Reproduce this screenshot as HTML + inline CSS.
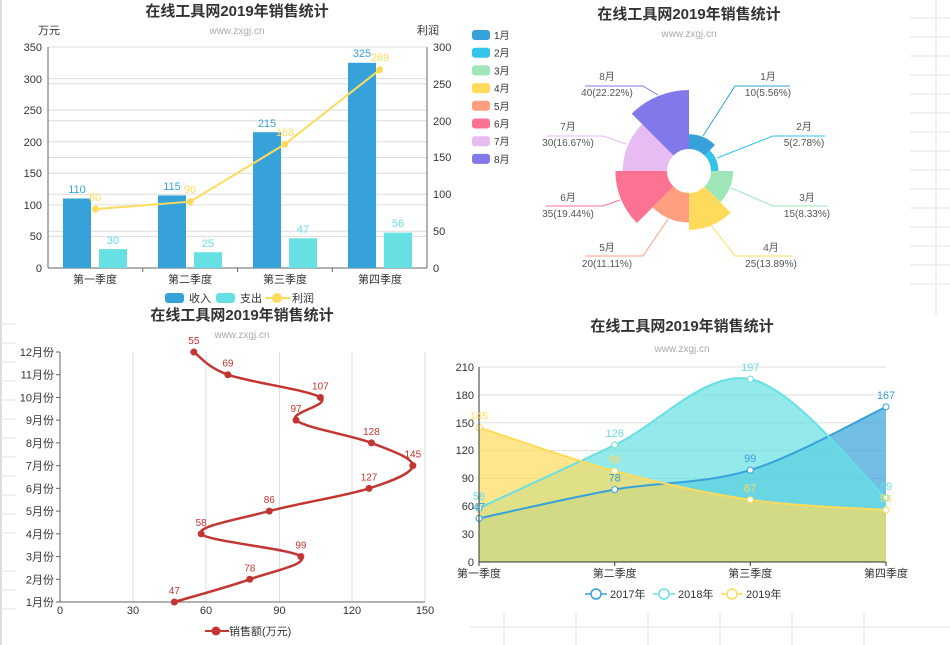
<!DOCTYPE html>
<html><head><meta charset="utf-8"><style>
html,body{margin:0;padding:0;background:#fff;}
svg{display:block;font-family:"Liberation Sans","Noto Sans CJK SC",sans-serif;}
.t{font-size:15px;font-weight:bold;fill:#333;text-anchor:middle}
.s{font-size:10px;fill:#aaa;text-anchor:middle}
.ax{font-size:11px;fill:#333}
.g{stroke:#ddd;stroke-width:1}
</style></head><body>
<svg id="c" width="950" height="645" viewBox="0 0 950 645" xmlns="http://www.w3.org/2000/svg">
<rect width="950" height="645" fill="#fff"/>
<line x1="1" y1="0" x2="1" y2="645" stroke="#bbb"/>
<g stroke="#e3e3e3">
<line x1="910" y1="18" x2="950" y2="18"/><line x1="910" y1="37" x2="950" y2="37"/><line x1="910" y1="56" x2="950" y2="56"/><line x1="910" y1="75" x2="950" y2="75"/><line x1="910" y1="94" x2="950" y2="94"/><line x1="910" y1="113" x2="950" y2="113"/><line x1="910" y1="132" x2="950" y2="132"/><line x1="910" y1="151" x2="950" y2="151"/><line x1="910" y1="170" x2="950" y2="170"/><line x1="910" y1="189" x2="950" y2="189"/><line x1="910" y1="208" x2="950" y2="208"/><line x1="910" y1="227" x2="950" y2="227"/><line x1="910" y1="246" x2="950" y2="246"/><line x1="910" y1="265" x2="950" y2="265"/><line x1="910" y1="284" x2="950" y2="284"/><line x1="936" y1="0" x2="936" y2="315"/>
<line x1="470" y1="627" x2="950" y2="627"/><line x1="504" y1="612" x2="504" y2="645"/><line x1="576" y1="612" x2="576" y2="645"/><line x1="648" y1="612" x2="648" y2="645"/><line x1="720" y1="612" x2="720" y2="645"/><line x1="792" y1="612" x2="792" y2="645"/><line x1="864" y1="612" x2="864" y2="645"/>
<line x1="0" y1="324" x2="16" y2="324"/><line x1="0" y1="343" x2="16" y2="343"/><line x1="0" y1="362" x2="16" y2="362"/><line x1="0" y1="381" x2="16" y2="381"/><line x1="0" y1="400" x2="16" y2="400"/><line x1="0" y1="419" x2="16" y2="419"/><line x1="0" y1="438" x2="16" y2="438"/><line x1="0" y1="457" x2="16" y2="457"/><line x1="0" y1="476" x2="16" y2="476"/><line x1="0" y1="495" x2="16" y2="495"/><line x1="0" y1="514" x2="16" y2="514"/><line x1="0" y1="533" x2="16" y2="533"/><line x1="0" y1="571" x2="16" y2="571"/><line x1="0" y1="590" x2="16" y2="590"/><line x1="0" y1="609" x2="16" y2="609"/>
</g>

<!-- CHART 1 -->
<text class="t" x="237" y="16">在线工具网2019年销售统计</text>
<text class="s" x="237" y="34">www.zxgj.cn</text>
<text class="ax" x="38" y="34">万元</text>
<text class="ax" x="417" y="34">利润</text>
<g class="g">
<line x1="48" y1="236.4" x2="427" y2="236.4"/><line x1="48" y1="204.9" x2="427" y2="204.9"/><line x1="48" y1="173.3" x2="427" y2="173.3"/><line x1="48" y1="141.7" x2="427" y2="141.7"/><line x1="48" y1="110.1" x2="427" y2="110.1"/><line x1="48" y1="78.6" x2="427" y2="78.6"/><line x1="48" y1="47" x2="427" y2="47"/>
<line x1="48" y1="231.2" x2="427" y2="231.2"/><line x1="48" y1="194.3" x2="427" y2="194.3"/><line x1="48" y1="157.5" x2="427" y2="157.5"/><line x1="48" y1="120.7" x2="427" y2="120.7"/><line x1="48" y1="83.8" x2="427" y2="83.8"/>
</g>
<g stroke="#666"><line x1="48" y1="47" x2="48" y2="268"/><line x1="427" y1="47" x2="427" y2="268"/><line x1="48" y1="268" x2="427" y2="268"/>
<line x1="142.75" y1="268" x2="142.75" y2="272"/><line x1="237.5" y1="268" x2="237.5" y2="272"/><line x1="332.25" y1="268" x2="332.25" y2="272"/></g>
<g class="ax" text-anchor="end"><text x="42" y="272">0</text><text x="42" y="240">50</text><text x="42" y="209">100</text><text x="42" y="177">150</text><text x="42" y="146">200</text><text x="42" y="114">250</text><text x="42" y="83">300</text><text x="42" y="51">350</text></g>
<g class="ax"><text x="433" y="272">0</text><text x="433" y="235">50</text><text x="433" y="198">100</text><text x="433" y="161">150</text><text x="433" y="125">200</text><text x="433" y="88">250</text><text x="433" y="51">300</text></g>
<g class="ax" text-anchor="middle"><text x="95" y="283">第一季度</text><text x="190" y="283">第二季度</text><text x="285" y="283">第三季度</text><text x="380" y="283">第四季度</text></g>
<g fill="#37a2da"><rect x="63" y="198.5" width="28" height="69.5"/><rect x="158" y="195.4" width="28" height="72.6"/><rect x="253" y="132.2" width="28" height="135.8"/><rect x="348" y="62.8" width="28" height="205.2"/></g>
<g fill="#67e0e3"><rect x="99" y="249.1" width="28" height="18.9"/><rect x="194" y="252.2" width="28" height="15.8"/><rect x="289" y="238.3" width="28" height="29.7"/><rect x="384" y="232.6" width="28" height="35.4"/></g>
<g font-size="11" fill="#37a2da" text-anchor="middle"><text x="77" y="193">110</text><text x="172" y="190">115</text><text x="267" y="127">215</text><text x="362" y="57">325</text></g>
<g font-size="11" fill="#67e0e3" text-anchor="middle"><text x="113" y="244">30</text><text x="208" y="247">25</text><text x="303" y="233">47</text><text x="398" y="227">56</text></g>
<polyline points="95.4,209.1 190.1,201.7 284.9,144.2 379.6,69.8" fill="none" stroke="#ffdb5c" stroke-width="2"/>
<g fill="#ffdb5c"><circle cx="95.4" cy="209.1" r="3.5"/><circle cx="190.1" cy="201.7" r="3.5"/><circle cx="284.9" cy="144.2" r="3.5"/><circle cx="379.6" cy="69.8" r="3.5"/></g>
<g font-size="11" fill="#ffdb5c" text-anchor="middle"><text x="95" y="201">80</text><text x="190" y="193">90</text><text x="285" y="136">168</text><text x="380" y="61">269</text></g>
<rect x="165" y="293" width="19" height="10" rx="3" fill="#37a2da"/><text class="ax" x="189" y="302">收入</text>
<rect x="216" y="293" width="19" height="10" rx="3" fill="#67e0e3"/><text class="ax" x="240" y="302">支出</text>
<line x1="265" y1="298" x2="290" y2="298" stroke="#ffdb5c" stroke-width="2"/><circle cx="277" cy="298" r="5" fill="#ffdb5c"/><text class="ax" x="292" y="302">利润</text>

<!-- CHART 2 -->
<text class="t" x="689" y="19">在线工具网2019年销售统计</text>
<text class="s" x="689" y="37">www.zxgj.cn</text>
<g id="leg2" font-size="10" fill="#333"></g>
<g id="rose"></g>
<g font-size="10" fill="#555" text-anchor="middle">
<text x="768" y="80">1月</text><text x="768" y="96">10(5.56%)</text>
<text x="804" y="130">2月</text><text x="804" y="146">5(2.78%)</text>
<text x="807" y="201">3月</text><text x="807" y="217">15(8.33%)</text>
<text x="771" y="251">4月</text><text x="771" y="267">25(13.89%)</text>
<text x="607" y="251">5月</text><text x="607" y="267">20(11.11%)</text>
<text x="568" y="201">6月</text><text x="568" y="217">35(19.44%)</text>
<text x="568" y="130">7月</text><text x="568" y="146">30(16.67%)</text>
<text x="607" y="80">8月</text><text x="607" y="96">40(22.22%)</text>
</g>
<g fill="none" stroke-width="1">
<polyline points="703,136 735,86 790,86" stroke="#37a2da"/><polyline points="717,158 773,136 825,136" stroke="#32c5e9"/>
<polyline points="731,188 773,206 828,206" stroke="#9fe6b8"/><polyline points="711,225 735,256 793,256" stroke="#ffdb5c"/>
<polyline points="668,219 643,256 585,256" stroke="#ff9f7f"/><polyline points="620,200 603,206 546,206" stroke="#fb7293"/>
<polyline points="626,144 603,136 546,136" stroke="#e7bcf3"/><polyline points="658,95 643,86 585,86" stroke="#8378ea"/>
</g>

<!-- CHART 3 -->
<text class="t" x="242" y="320">在线工具网2019年销售统计</text>
<text class="s" x="242" y="338">www.zxgj.cn</text>
<g class="g"><line x1="133" y1="352" x2="133" y2="602"/><line x1="206" y1="352" x2="206" y2="602"/><line x1="279.5" y1="352" x2="279.5" y2="602"/><line x1="352" y1="352" x2="352" y2="602"/><line x1="425" y1="352" x2="425" y2="602"/></g>
<g stroke="#666"><line x1="60" y1="352" x2="60" y2="602"/><line x1="60" y1="602" x2="425" y2="602"/></g>
<g id="yt3" stroke="#666"></g>
<g class="ax" font-size="10" text-anchor="end" id="yl3"></g>
<g class="ax" font-size="10" text-anchor="middle"><text x="60" y="614">0</text><text x="133" y="614">30</text><text x="206" y="614">60</text><text x="279.5" y="614">90</text><text x="352" y="614">120</text><text x="425" y="614">150</text></g>
<path id="p3" fill="none" stroke="#c23531" stroke-width="2.5"/>
<g id="pt3" fill="#c23531"></g>
<g id="lb3" font-size="10" fill="#c23531" text-anchor="middle"></g>
<line x1="205" y1="631" x2="229" y2="631" stroke="#c23531" stroke-width="2"/><circle cx="216" cy="631" r="4.5" fill="#c23531"/>
<text class="ax" font-size="10" x="229" y="635">销售额(万元)</text>

<!-- CHART 4 -->
<text class="t" x="682" y="331">在线工具网2019年销售统计</text>
<text class="s" x="682" y="352">www.zxgj.cn</text>
<g class="g"><line x1="479" y1="534.1" x2="886" y2="534.1"/><line x1="479" y1="506.3" x2="886" y2="506.3"/><line x1="479" y1="478.4" x2="886" y2="478.4"/><line x1="479" y1="450.6" x2="886" y2="450.6"/><line x1="479" y1="422.7" x2="886" y2="422.7"/><line x1="479" y1="394.9" x2="886" y2="394.9"/><line x1="479" y1="367" x2="886" y2="367"/></g>
<g id="a4"></g>
<g stroke="#333"><line x1="479" y1="367" x2="479" y2="562"/><line x1="479" y1="562" x2="886" y2="562"/>
<line x1="614.7" y1="562" x2="614.7" y2="566"/><line x1="750.3" y1="562" x2="750.3" y2="566"/><line x1="886" y1="562" x2="886" y2="566"/><line x1="479" y1="562" x2="479" y2="566"/></g>
<g class="ax" text-anchor="end"><text x="474" y="566">0</text><text x="474" y="538">30</text><text x="474" y="510">60</text><text x="474" y="482">90</text><text x="474" y="454">120</text><text x="474" y="427">150</text><text x="474" y="399">180</text><text x="474" y="371">210</text></g>
<g class="ax" text-anchor="middle"><text x="479" y="577">第一季度</text><text x="614.7" y="577">第二季度</text><text x="750.3" y="577">第三季度</text><text x="886" y="577">第四季度</text></g>
<g id="lb4" font-size="11" text-anchor="middle"></g>
<g fill="#fff" stroke-width="1.5">
<line x1="585" y1="594" x2="607" y2="594" stroke="#37a2da"/><circle cx="596" cy="594" r="5" stroke="#37a2da"/>
<line x1="653" y1="594" x2="675" y2="594" stroke="#67e0e3"/><circle cx="664" cy="594" r="5" stroke="#67e0e3"/>
<line x1="721" y1="594" x2="743" y2="594" stroke="#ffdb5c"/><circle cx="732" cy="594" r="5" stroke="#ffdb5c"/>
</g>
<g class="ax" fill="#333"><text x="610" y="598">2017年</text><text x="678" y="598">2018年</text><text x="746" y="598">2019年</text></g>
</svg>
<script>
var NS="http://www.w3.org/2000/svg";
function el(p,t,a,txt){var e=document.createElementNS(NS,t);for(var k in a)e.setAttribute(k,a[k]);if(txt!=null)e.textContent=txt;document.getElementById(p).appendChild(e);return e;}
function cr(pts){var d="M"+pts[0][0]+","+pts[0][1];for(var i=0;i<pts.length-1;i++){var p0=pts[i-1]||pts[i],p1=pts[i],p2=pts[i+1],p3=pts[i+2]||p2;var t=0.5/3*2;
var c1=[p1[0]+(p2[0]-p0[0])/6,p1[1]+(p2[1]-p0[1])/6],c2=[p2[0]-(p3[0]-p1[0])/6,p2[1]-(p3[1]-p1[1])/6];d+=" C"+c1+" "+c2+" "+p2;}return d;}
// legend 2 & rose
var cols=["#37a2da","#32c5e9","#9fe6b8","#ffdb5c","#ff9f7f","#fb7293","#e7bcf3","#8378ea"];
var vals=[10,5,15,25,20,35,30,40];
for(var i=0;i<8;i++){var y=35+i*17.7;el("leg2","rect",{x:472,y:y-5,width:18,height:10,rx:3,fill:cols[i]});el("leg2","text",{x:494,y:y+4},(i+1)+"月");}
var cx=689,cy=171,ri=22;
for(var i=0;i<8;i++){var r=ri+59*vals[i]/40,a0=i*Math.PI/4,a1=(i+1)*Math.PI/4;
function P(rr,a){return (cx+rr*Math.sin(a)).toFixed(2)+","+(cy-rr*Math.cos(a)).toFixed(2);}
el("rose","path",{fill:cols[i],d:"M"+P(ri,a0)+" L"+P(r,a0)+" A"+r+","+r+" 0 0 1 "+P(r,a1)+" L"+P(ri,a1)+" A"+ri+","+ri+" 0 0 0 "+P(ri,a0)+"Z"});}
// chart3
var v3=[47,78,99,58,86,127,145,128,97,107,69,55],pts=[];
for(var i=0;i<12;i++){var y=602-i*250/11,x=60+v3[i]*365/150;pts.push([+x.toFixed(1),+y.toFixed(1)]);
el("yt3","line",{x1:56,y1:y,x2:60,y2:y});el("yl3","text",{x:54,y:y+4},(i+1)+"月份");
el("pt3","circle",{cx:x,cy:y,r:3.5});el("lb3","text",{x:x,y:y-8},v3[i]);}
document.getElementById("p3").setAttribute("d",cr(pts));
// chart4
var X=[479,614.7,750.3,886];function Y(v){return 562-v*195/210;}
var S=[[[47,78,99,167],"#37a2da"],[[58,126,197,69],"#67e0e3"],[[145,98,67,56],"#ffdb5c"]];
S.forEach(function(s){var p=s[0].map(function(v,i){return [X[i],+Y(v).toFixed(1)];});var d=cr(p);
el("a4","path",{d:d+" L886,562 L479,562Z",fill:s[1],"fill-opacity":0.7});});
S.forEach(function(s){var p=s[0].map(function(v,i){return [X[i],+Y(v).toFixed(1)];});
el("a4","path",{d:cr(p),fill:"none",stroke:s[1],"stroke-width":2});
p.forEach(function(q,i){el("a4","circle",{cx:q[0],cy:q[1],r:3,fill:"#fff",stroke:s[1]});el("lb4","text",{x:q[0],y:q[1]-8,fill:s[1]},s[0][i]);});});
</script>
</body></html>
